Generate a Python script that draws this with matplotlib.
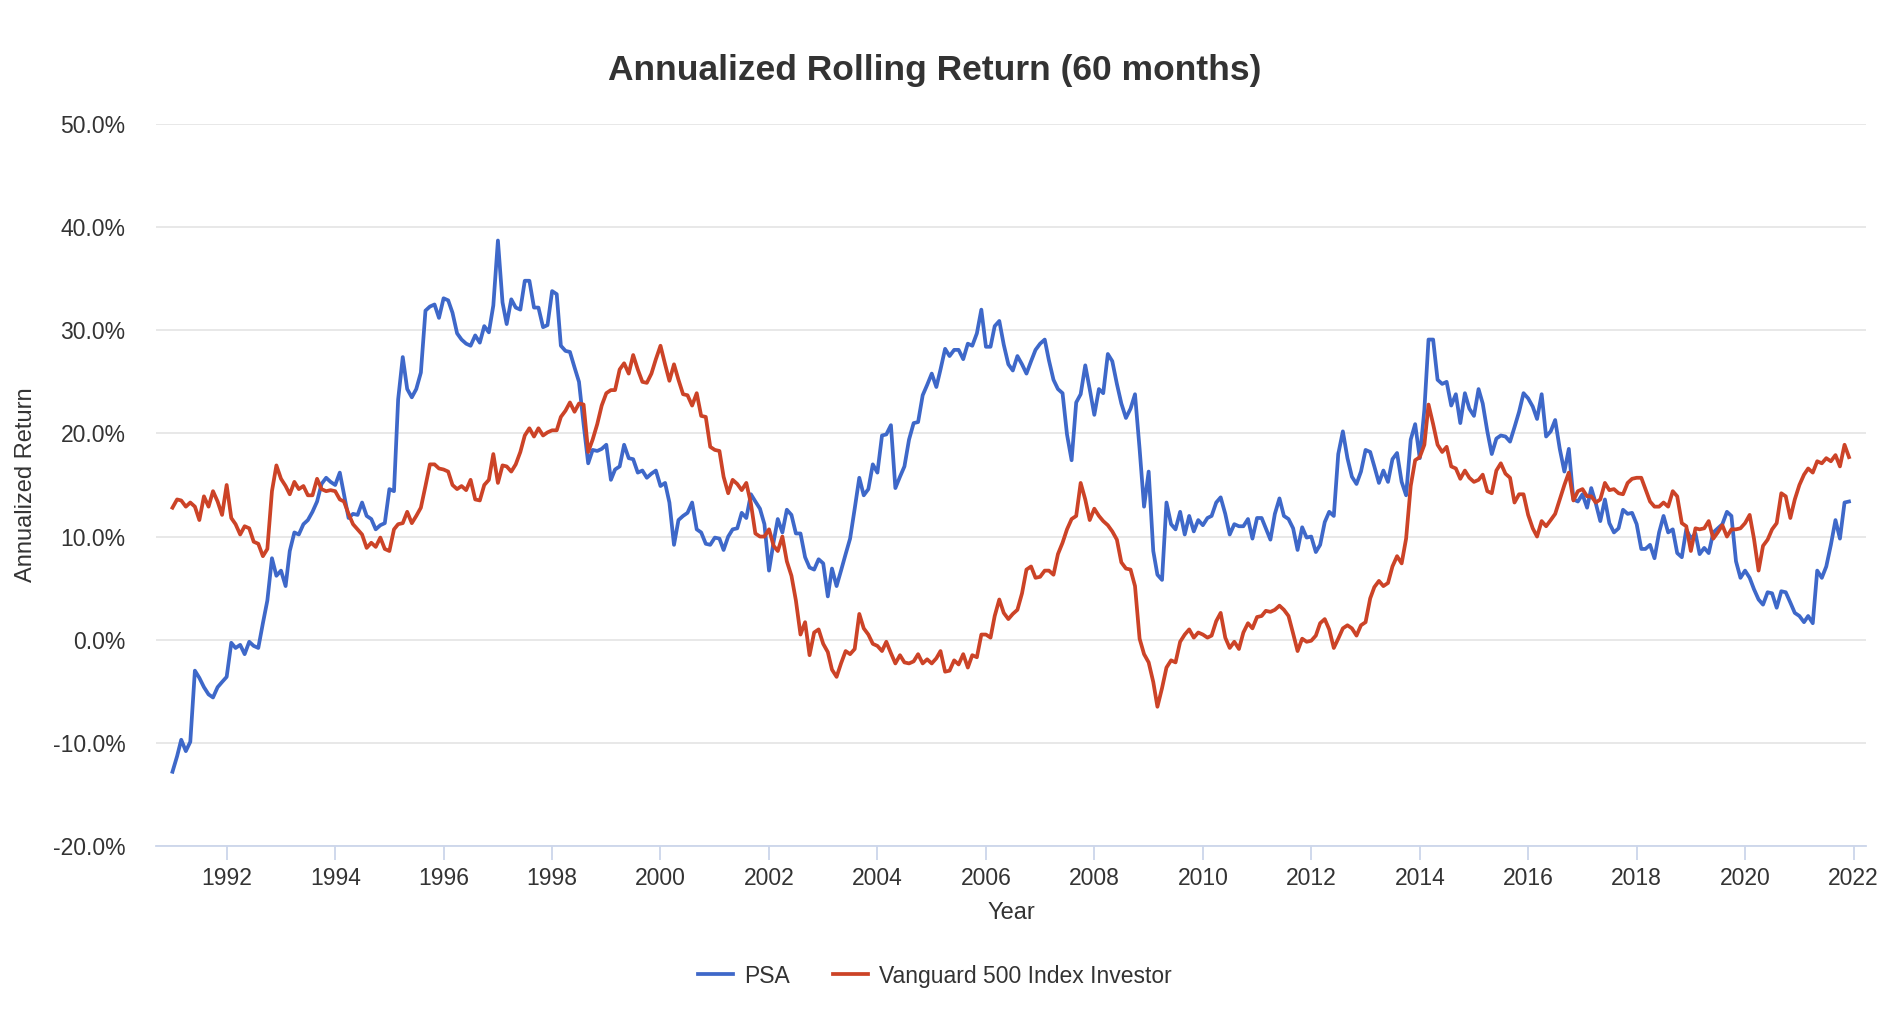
import matplotlib
matplotlib.use("Agg")
import matplotlib.pyplot as plt
import matplotlib.dates as mdates
from matplotlib.ticker import FuncFormatter
import pandas as pd

title = "Annualized Rolling Return (60 months)"
series_names = ["PSA", "Vanguard 500 Index Investor"]
start_month = "1991-01-01"

psa = [
    -12.8, -11.3, -9.7, -10.8, -9.9, -3.0, -3.7, -4.6, -5.3, -5.6, -4.6, -4.1,
    -3.6, -0.3, -0.8, -0.5, -1.4, -0.2, -0.6, -0.8, 1.6, 3.8, 7.9, 6.2,
    6.7, 5.2, 8.6, 10.4, 10.2, 11.2, 11.6, 12.4, 13.4, 15.1, 15.7, 15.3,
    15.0, 16.2, 14.1, 11.8, 12.2, 12.1, 13.3, 12.0, 11.7, 10.7, 11.1, 11.3,
    14.6, 14.4, 23.3, 27.4, 24.3, 23.5, 24.3, 25.9, 31.9, 32.3, 32.5, 31.2,
    33.1, 32.9, 31.7, 29.7, 29.1, 28.7, 28.5, 29.5, 28.8, 30.4, 29.8, 32.4,
    38.7, 32.7, 30.6, 33.0, 32.2, 32.0, 34.8, 34.8, 32.2, 32.2, 30.3, 30.5,
    33.8, 33.5, 28.5, 28.0, 27.9, 26.4, 25.0, 20.9, 17.1, 18.4, 18.3, 18.5,
    18.9, 15.5, 16.5, 16.8, 18.9, 17.6, 17.5, 16.2, 16.4, 15.7, 16.1, 16.4,
    14.9, 15.2, 13.3, 9.2, 11.6, 12.0, 12.3, 13.3, 10.7, 10.4, 9.3, 9.2,
    9.9, 9.8, 8.7, 10.0, 10.7, 10.8, 12.3, 11.8, 14.1, 13.4, 12.7, 11.2,
    6.7, 9.5, 11.7, 10.4, 12.6, 12.1, 10.3, 10.3, 8.0, 7.0, 6.8, 7.8,
    7.4, 4.2, 6.9, 5.2, 6.7, 8.3, 9.8, 12.7, 15.7, 14.0, 14.6, 17.0,
    16.2, 19.8, 19.9, 20.8, 14.7, 15.8, 16.8, 19.4, 21.0, 21.1, 23.7, 24.7,
    25.8, 24.5, 26.2, 28.2, 27.5, 28.1, 28.1, 27.2, 28.7, 28.5, 29.7, 32.0,
    28.4, 28.4, 30.4, 30.9, 28.6, 26.7, 26.1, 27.5, 26.7, 25.8, 27.0, 28.1,
    28.7, 29.1, 27.1, 25.2, 24.3, 23.9, 19.9, 17.4, 23.0, 23.8, 26.6, 24.3,
    21.8, 24.3, 23.9, 27.7, 27.0, 24.8, 22.9, 21.5, 22.4, 23.8, 18.5, 12.9,
    16.3, 8.6, 6.3, 5.8, 13.3, 11.2, 10.7, 12.4, 10.2, 12.0, 10.5, 11.6,
    11.1, 11.8, 12.0, 13.3, 13.8, 12.2, 10.2, 11.2, 11.0, 11.0, 11.7, 9.8,
    11.8, 11.8, 10.8, 9.7, 12.2, 13.7, 12.0, 11.7, 10.8, 8.7, 10.9, 9.9,
    10.0, 8.5, 9.2, 11.4, 12.4, 12.0, 18.0, 20.2, 17.6, 15.8, 15.1, 16.3,
    18.4, 18.2, 16.8, 15.2, 16.4, 15.3, 17.5, 18.1, 15.3, 14.0, 19.4, 20.9,
    17.6, 22.3, 29.1, 29.1, 25.2, 24.8, 25.0, 22.7, 23.8, 21.0, 23.9, 22.4,
    21.7, 24.3, 22.9, 20.2, 18.0, 19.5, 19.8, 19.7, 19.2, 20.6, 22.1, 23.9,
    23.4, 22.6, 21.4, 23.8, 19.7, 20.2, 21.3, 18.5, 16.3, 18.5, 13.6, 13.4,
    14.1, 12.8, 14.7, 13.2, 11.5, 13.6, 11.3, 10.4, 10.8, 12.6, 12.2, 12.3,
    11.2, 8.8, 8.8, 9.2, 7.9, 10.4, 12.0, 10.4, 10.7, 8.4, 8.0, 10.7,
    9.8, 10.3, 8.3, 8.9, 8.4, 10.4, 10.8, 11.2, 12.4, 12.0, 7.6, 6.0,
    6.7, 6.0, 4.9, 3.9, 3.4, 4.6, 4.5, 3.1, 4.7, 4.6, 3.6, 2.6,
    2.3, 1.7, 2.3, 1.6, 6.7, 6.0, 7.1, 9.2, 11.6, 9.8, 13.3, 13.4,
]

vfinx = [
    12.8, 13.6, 13.5, 12.9, 13.3, 12.9, 11.6, 13.9, 12.9, 14.4, 13.4, 12.1,
    15.0, 11.8, 11.2, 10.2, 11.0, 10.8, 9.5, 9.3, 8.1, 8.8, 14.4, 16.9,
    15.6, 14.9, 14.1, 15.3, 14.6, 14.9, 14.0, 14.0, 15.6, 14.6, 14.4, 14.5,
    14.4, 13.6, 13.4, 12.2, 11.2, 10.7, 10.2, 8.9, 9.4, 9.0, 9.9, 8.8,
    8.6, 10.7, 11.2, 11.3, 12.4, 11.3, 12.0, 12.8, 14.9, 17.0, 17.0, 16.6,
    16.5, 16.3, 15.0, 14.6, 14.9, 14.5, 15.5, 13.6, 13.5, 15.0, 15.5, 18.0,
    15.2, 16.9, 16.8, 16.3, 17.0, 18.2, 19.8, 20.5, 19.7, 20.5, 19.8, 20.1,
    20.3, 20.3, 21.6, 22.2, 23.0, 22.1, 22.9, 22.8, 18.2, 19.4, 20.9, 22.7,
    23.9, 24.2, 24.2, 26.2, 26.8, 25.8, 27.6, 26.2, 25.0, 24.9, 25.8, 27.2,
    28.5, 26.7, 25.1, 26.7, 25.2, 23.8, 23.7, 22.7, 23.9, 21.7, 21.6, 18.7,
    18.4, 18.3, 15.8, 14.2, 15.5, 15.1, 14.5, 15.2, 13.2, 10.3, 10.0, 10.0,
    10.7, 9.1, 8.6, 10.0, 7.6, 6.2, 3.8, 0.5, 1.7, -1.5, 0.7, 1.0,
    -0.4, -1.2, -2.9, -3.6, -2.3, -1.1, -1.4, -0.9, 2.5, 1.1, 0.5, -0.4,
    -0.6, -1.1, -0.2, -1.3, -2.3, -1.5, -2.2, -2.3, -2.1, -1.4, -2.3, -1.9,
    -2.3, -1.8, -1.1, -3.1, -3.0, -2.0, -2.4, -1.4, -2.7, -1.5, -1.7, 0.5,
    0.5, 0.2, 2.3, 3.9, 2.6, 2.0, 2.5, 2.9, 4.5, 6.8, 7.1, 6.0,
    6.1, 6.7, 6.7, 6.3, 8.3, 9.4, 10.7, 11.7, 12.0, 15.2, 13.6, 11.6,
    12.7, 12.0, 11.5, 11.1, 10.5, 9.7, 7.5, 6.9, 6.8, 5.2, 0.1, -1.4,
    -2.2, -4.1, -6.5, -4.7, -2.7, -2.0, -2.2, -0.2, 0.5, 1.0, 0.2, 0.7,
    0.5, 0.2, 0.4, 1.8, 2.6, 0.2, -0.8, -0.2, -0.9, 0.7, 1.6, 1.1,
    2.2, 2.3, 2.8, 2.7, 2.9, 3.3, 2.9, 2.3, 0.6, -1.1, 0.1, -0.2,
    -0.1, 0.4, 1.6, 2.0, 1.0, -0.8, 0.1, 1.1, 1.4, 1.1, 0.4, 1.4,
    1.7, 4.0, 5.1, 5.7, 5.2, 5.5, 7.1, 8.1, 7.4, 9.8, 14.9, 17.4,
    17.7, 18.9, 22.8, 20.9, 18.9, 18.2, 18.7, 16.8, 16.6, 15.6, 16.4, 15.7,
    15.3, 15.5, 16.0, 14.4, 14.2, 16.4, 17.1, 16.1, 15.7, 13.3, 14.1, 14.1,
    12.1, 10.8, 10.0, 11.5, 11.0, 11.6, 12.2, 13.6, 15.0, 16.2, 13.5, 14.4,
    14.6, 13.9, 13.9, 13.3, 13.6, 15.2, 14.5, 14.6, 14.2, 14.1, 15.2, 15.6,
    15.7, 15.7, 14.6, 13.4, 12.9, 12.9, 13.3, 12.9, 14.4, 13.9, 11.3, 11.0,
    8.6, 10.8, 10.7, 10.8, 11.5, 9.8, 10.4, 11.1, 10.0, 10.7, 10.7, 10.8,
    11.3, 12.1, 9.8, 6.7, 9.1, 9.7, 10.7, 11.3, 14.2, 13.9, 11.8, 13.6,
    15.0, 16.0, 16.6, 16.2, 17.3, 17.1, 17.6, 17.3, 17.9, 16.8, 18.9, 17.7,
]

tick_years = list(range(1992, 2023, 2))
y_ticks = [-20, -10, 0, 10, 20, 30, 40, 50]

plt.rcParams["font.family"] = ["Liberation Sans", "DejaVu Sans"]

dates = pd.date_range(start_month, periods=len(psa), freq="MS")

fig = plt.figure(figsize=(18.84, 10.22), dpi=100)
ax = fig.add_axes([0.0828, 0.1722, 0.9076, 0.7065])

c_psa = "#3e68c9"
c_vfinx = "#cc4327"
ax.plot(dates, psa, color=c_psa, lw=2.7, label=series_names[0], zorder=3,
        solid_joinstyle="round")
ax.plot(dates, vfinx, color=c_vfinx, lw=2.7, label=series_names[1], zorder=3,
        solid_joinstyle="round")

ax.set_ylim(-20, 50)
ax.set_yticks(y_ticks)
ax.yaxis.set_major_formatter(FuncFormatter(lambda v, p: f"{v:.1f}%"))
ax.set_xlim(pd.Timestamp("1990-09-12"), pd.Timestamp("2022-03-25"))
ax.set_xticks([pd.Timestamp(f"{y}-01-01") for y in tick_years])
ax.xaxis.set_major_formatter(mdates.DateFormatter("%Y"))

ax.grid(axis="y", color="#e6e6e6", lw=1.3)
ax.set_axisbelow(True)
for s in ["top", "right", "left"]:
    ax.spines[s].set_visible(False)
ax.spines["bottom"].set_color("#ccd6eb")
ax.spines["bottom"].set_linewidth(1.3)
ax.tick_params(axis="y", length=0, pad=22, labelsize=16.5, labelcolor="#333333")
ax.tick_params(axis="x", length=10, width=1.3, color="#ccd6eb", pad=5,
               labelsize=16.5, labelcolor="#333333")

ax.set_xlabel("Year", fontsize=17, color="#333333", labelpad=9)
ax.set_ylabel("Annualized Return", fontsize=17, color="#333333", labelpad=11)

fig.text(0.4963, 0.931, title, ha="center", va="center", fontsize=25.5,
         fontweight="bold", color="#333333")

leg = ax.legend(loc="center", bbox_to_anchor=(0.4963, 0.045),
                bbox_transform=fig.transFigure, ncol=2, frameon=False,
                fontsize=16.5, handlelength=1.5, columnspacing=1.9,
                handletextpad=0.5)
for t in leg.get_texts():
    t.set_color("#333333")

fig.savefig("out.png", dpi=100)
